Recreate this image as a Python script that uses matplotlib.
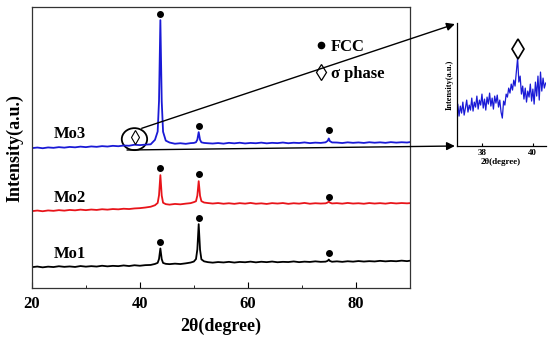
'''
XRD patterns of Mo1-Mo3 with an inset zoom on the sigma phase peak
'''
import matplotlib
matplotlib.use('Agg')
import matplotlib.pyplot as plt
from matplotlib.patches import Ellipse

plt.rcParams['font.family'] = ['Liberation Serif', 'DejaVu Serif']
plt.rcParams['font.weight'] = 'bold'

# 2theta grid shared by the three patterns
two_theta = [20, 21, 22, 23, 24, 25, 26, 27, 28, 29, 30, 31, 32, 33, 34, 35, 36, 37, 38, 39, 40, 41, 42,
             42.8, 43.3, 43.55, 43.8, 44.05, 44.3, 44.8, 45.5,
             46.5, 47.5, 48.5, 49.4,
             50.0, 50.4, 50.65, 50.9, 51.15, 51.4, 51.9, 52.6,
             53.5, 54.5, 55.5, 56.5, 57.5, 58.5, 59.5, 60.5, 61.5, 62.5, 63.5, 64.5, 65.5, 66.5, 67.5,
             68.5, 69.5, 70.5, 71.5, 72.5, 73.5,
             74.4, 74.8, 75.0, 75.2, 75.6,
             76.5, 77.5, 78.5, 79.5, 80.5, 81.5, 82.5, 83.5, 84.5, 85.5, 86.5, 87.5, 88.5, 89.5, 90]

mo1 = [21.0, 21.6, 20.8, 21.5, 21.1, 21.9, 21.3, 21.7, 21.2, 22.1, 21.5, 22.0, 21.6, 22.4, 21.8, 22.3,
       22.0, 22.7, 22.1, 22.9, 22.4, 23.0, 23.2,
       24.2, 25.3, 29.2, 39.7, 29.0, 25.2, 24.3, 24.0,
       24.5, 24.1, 24.8, 25.6,
       26.6, 29.1, 38.8, 64.0, 38.4, 28.8, 26.8, 26.0,
       25.5, 26.1, 25.7, 26.3, 25.6, 26.2, 25.9, 26.5, 25.8, 26.4, 26.0, 26.6, 25.9, 26.3, 26.1,
       26.7, 26.0, 26.5, 26.2, 26.8, 26.3,
       26.5, 27.3, 28.6, 27.2, 26.4,
       26.8, 26.3, 26.9, 26.5, 27.1, 26.6, 27.0, 26.7, 27.3, 26.8, 27.2, 26.9, 27.5, 27.0, 27.4]

mo2 = [77.0, 77.6, 76.9, 77.7, 77.3, 78.0, 77.5, 78.2, 77.8, 78.5, 78.0, 78.6, 78.2, 78.9, 78.5, 79.1,
       78.8, 79.4, 79.1, 79.7, 80.0, 80.6, 81.4,
       82.9, 85.2, 92.9, 113.0, 92.6, 85.4, 84.0, 83.5,
       84.2, 83.8, 84.5, 85.0,
       86.0, 86.9, 92.6, 107.0, 92.3, 87.0, 85.6, 85.1,
       84.6, 85.1, 84.4, 84.9, 84.3, 85.0, 84.5, 85.2, 84.4, 84.8, 84.2, 85.0, 84.6, 85.1, 84.3,
       84.9, 84.5, 85.2, 84.4, 84.9, 84.6,
       84.8, 85.6, 86.6, 85.5, 84.7,
       85.0, 84.5, 85.2, 84.6, 84.9, 84.4, 85.1, 84.6, 85.0, 84.5, 85.2, 84.7, 85.1, 84.8, 85.0]

mo3 = [140.0, 140.6, 139.9, 140.7, 140.3, 141.0, 140.5, 141.2, 140.8, 141.5, 141.0, 141.7, 141.3, 142.0,
       141.6, 142.3, 141.9, 142.6, 142.4, 143.4, 143.0, 143.5, 143.8,
       148.3, 156.6, 187.4, 268.0, 186.8, 156.4, 147.5, 145.6,
       144.4, 144.9, 144.3, 145.0,
       145.2, 145.9, 148.5, 156.0, 148.3, 145.8, 145.2, 144.9,
       144.6, 145.1, 144.5, 145.3, 144.8, 145.4, 144.7, 145.2, 144.9, 145.5, 144.8, 145.3, 145.0,
       145.6, 144.9, 145.4, 145.1, 145.7, 145.0, 145.5, 145.2,
       145.8, 147.3, 149.7, 147.0, 145.7,
       145.6, 145.1, 145.8, 145.3, 145.7, 145.2, 145.9, 145.4, 145.8, 145.3, 146.0, 145.5, 145.9,
       145.6, 146.0]

# FCC peak markers
fcc_x = [43.8, 50.9, 75.0]
fcc_mo1 = [46, 70, 35]
fcc_mo2 = [120, 114, 91]
fcc_mo3 = [274, 162, 158]

# inset: sigma phase region of Mo3
inset_x = [37.00, 37.05, 37.10, 37.15, 37.20, 37.25, 37.30, 37.35, 37.40, 37.45, 37.50, 37.55,
           37.60, 37.65, 37.70, 37.75, 37.80, 37.85, 37.90, 37.95, 38.00, 38.05, 38.10, 38.15,
           38.20, 38.25, 38.30, 38.35, 38.40, 38.45, 38.50, 38.55, 38.60, 38.65, 38.70, 38.75,
           38.80, 38.85, 38.90, 38.95, 39.00, 39.05, 39.10, 39.15, 39.20, 39.25, 39.30, 39.35,
           39.40, 39.45, 39.50, 39.55, 39.60, 39.65, 39.70, 39.75, 39.80, 39.85, 39.90, 39.95,
           40.00, 40.05, 40.10, 40.15, 40.20, 40.25, 40.30, 40.35, 40.40, 40.45, 40.50]
inset_y = [35, 42, 30, 40, 33, 44, 31, 38, 46, 34, 41, 36,
           48, 35, 44, 39, 50, 37, 46, 41, 52, 38, 47, 36,
           49, 42, 53, 40, 48, 37, 50, 43, 51, 39, 46, 34,
           28, 45, 41, 52, 49, 58, 53, 62, 56, 66, 60, 74,
           88, 64, 70, 52, 60, 47, 58, 44, 55, 49, 62, 45,
           57, 42, 64, 50, 70, 46, 74, 55, 68, 58, 63]
sigma_x, sigma_y = 39.4, 97

fig = plt.figure(figsize=(5.5, 3.39), dpi=100)
ax = fig.add_axes([0.058, 0.150, 0.687, 0.829])

ax.plot(two_theta, mo1, color='black', lw=1.3)
ax.plot(two_theta, mo2, color='#e8141a', lw=1.3)
ax.plot(two_theta, mo3, color='#1a1ad6', lw=1.3)
for yy in (fcc_mo1, fcc_mo2, fcc_mo3):
    ax.plot(fcc_x, yy, 'o', color='black', ms=4, ls='none')

ax.text(27.1, 149.7, 'Mo3', fontsize=12, fontweight='bold', ha='center', va='baseline')
ax.text(27.1, 86.3, 'Mo2', fontsize=12, fontweight='bold', ha='center', va='baseline')
ax.text(27.1, 29.7, 'Mo1', fontsize=12, fontweight='bold', ha='center', va='baseline')

# legend made by hand
ax.plot([73.65], [243], 'o', color='black', ms=4.5)
ax.plot([73.65], [216.3], 'd', mfc='none', mec='black', mew=0.9, ms=8)
ax.text(75.4, 237.3, 'FCC', fontsize=12, fontweight='bold', va='baseline')
ax.text(75.4, 209.7, 'σ phase', fontsize=12, fontweight='bold', va='baseline')

# circle around the sigma peak
ax.add_patch(Ellipse((39.0, 149), width=4.7, height=22, fill=False, ec='black', lw=1.3))
ax.plot([39.1], [151.5], 'd', mfc='none', mec='black', mew=0.8, ms=7)

ax.set_xlim(20, 90)
ax.set_ylim(0, 281)
ax.set_xticks([20, 40, 60, 80])
ax.set_xticks([30, 50, 70], minor=True)
ax.set_yticks([])
ax.tick_params(axis='x', which='major', direction='in', length=4, labelsize=12, pad=6)
ax.tick_params(axis='x', which='minor', direction='in', length=2)
for lab in ax.get_xticklabels():
    lab.set_fontweight('bold')
ax.set_xlabel('2θ(degree)', fontsize=13, fontweight='bold', labelpad=4)
ax.set_ylabel('Intensity(a.u.)', fontsize=13, fontweight='bold', labelpad=6)
for sp in ax.spines.values():
    sp.set_linewidth(0.9)
    sp.set_color('#333333')

# arrows to the inset
arrow = dict(arrowstyle='-|>', color='black', lw=1.0, mutation_scale=12, shrinkA=0, shrinkB=0)
ax.annotate('', xy=(0.827, 0.929), xycoords='figure fraction',
            xytext=(0.2576, 0.6215), textcoords='figure fraction', arrowprops=arrow, annotation_clip=False)
ax.annotate('', xy=(0.827, 0.5693), xycoords='figure fraction',
            xytext=(0.2309, 0.5575), textcoords='figure fraction', arrowprops=arrow, annotation_clip=False)

# inset
ax2 = fig.add_axes([0.830, 0.569, 0.162, 0.363])
ax2.plot(inset_x, inset_y, color='#1a1ad6', lw=0.9)
ax2.plot([sigma_x], [sigma_y], 'd', mfc='none', mec='black', mew=1.2, ms=10)
ax2.set_xlim(37, 40.5)
ax2.set_ylim(0, 123)
ax2.set_xticks([38, 40])
ax2.set_yticks([])
ax2.tick_params(axis='x', direction='in', length=2, labelsize=6.5, pad=2)
for lab in ax2.get_xticklabels():
    lab.set_fontweight('bold')
ax2.set_xlabel('2θ(degree)', fontsize=6.5, fontweight='bold', labelpad=1)
ax2.set_ylabel('Intensity(a.u.)', fontsize=6, fontweight='bold', labelpad=2)
ax2.spines['top'].set_visible(False)
ax2.spines['right'].set_visible(False)
for sp in ('left', 'bottom'):
    ax2.spines[sp].set_linewidth(0.9)

fig.savefig('out.png', dpi=100)
